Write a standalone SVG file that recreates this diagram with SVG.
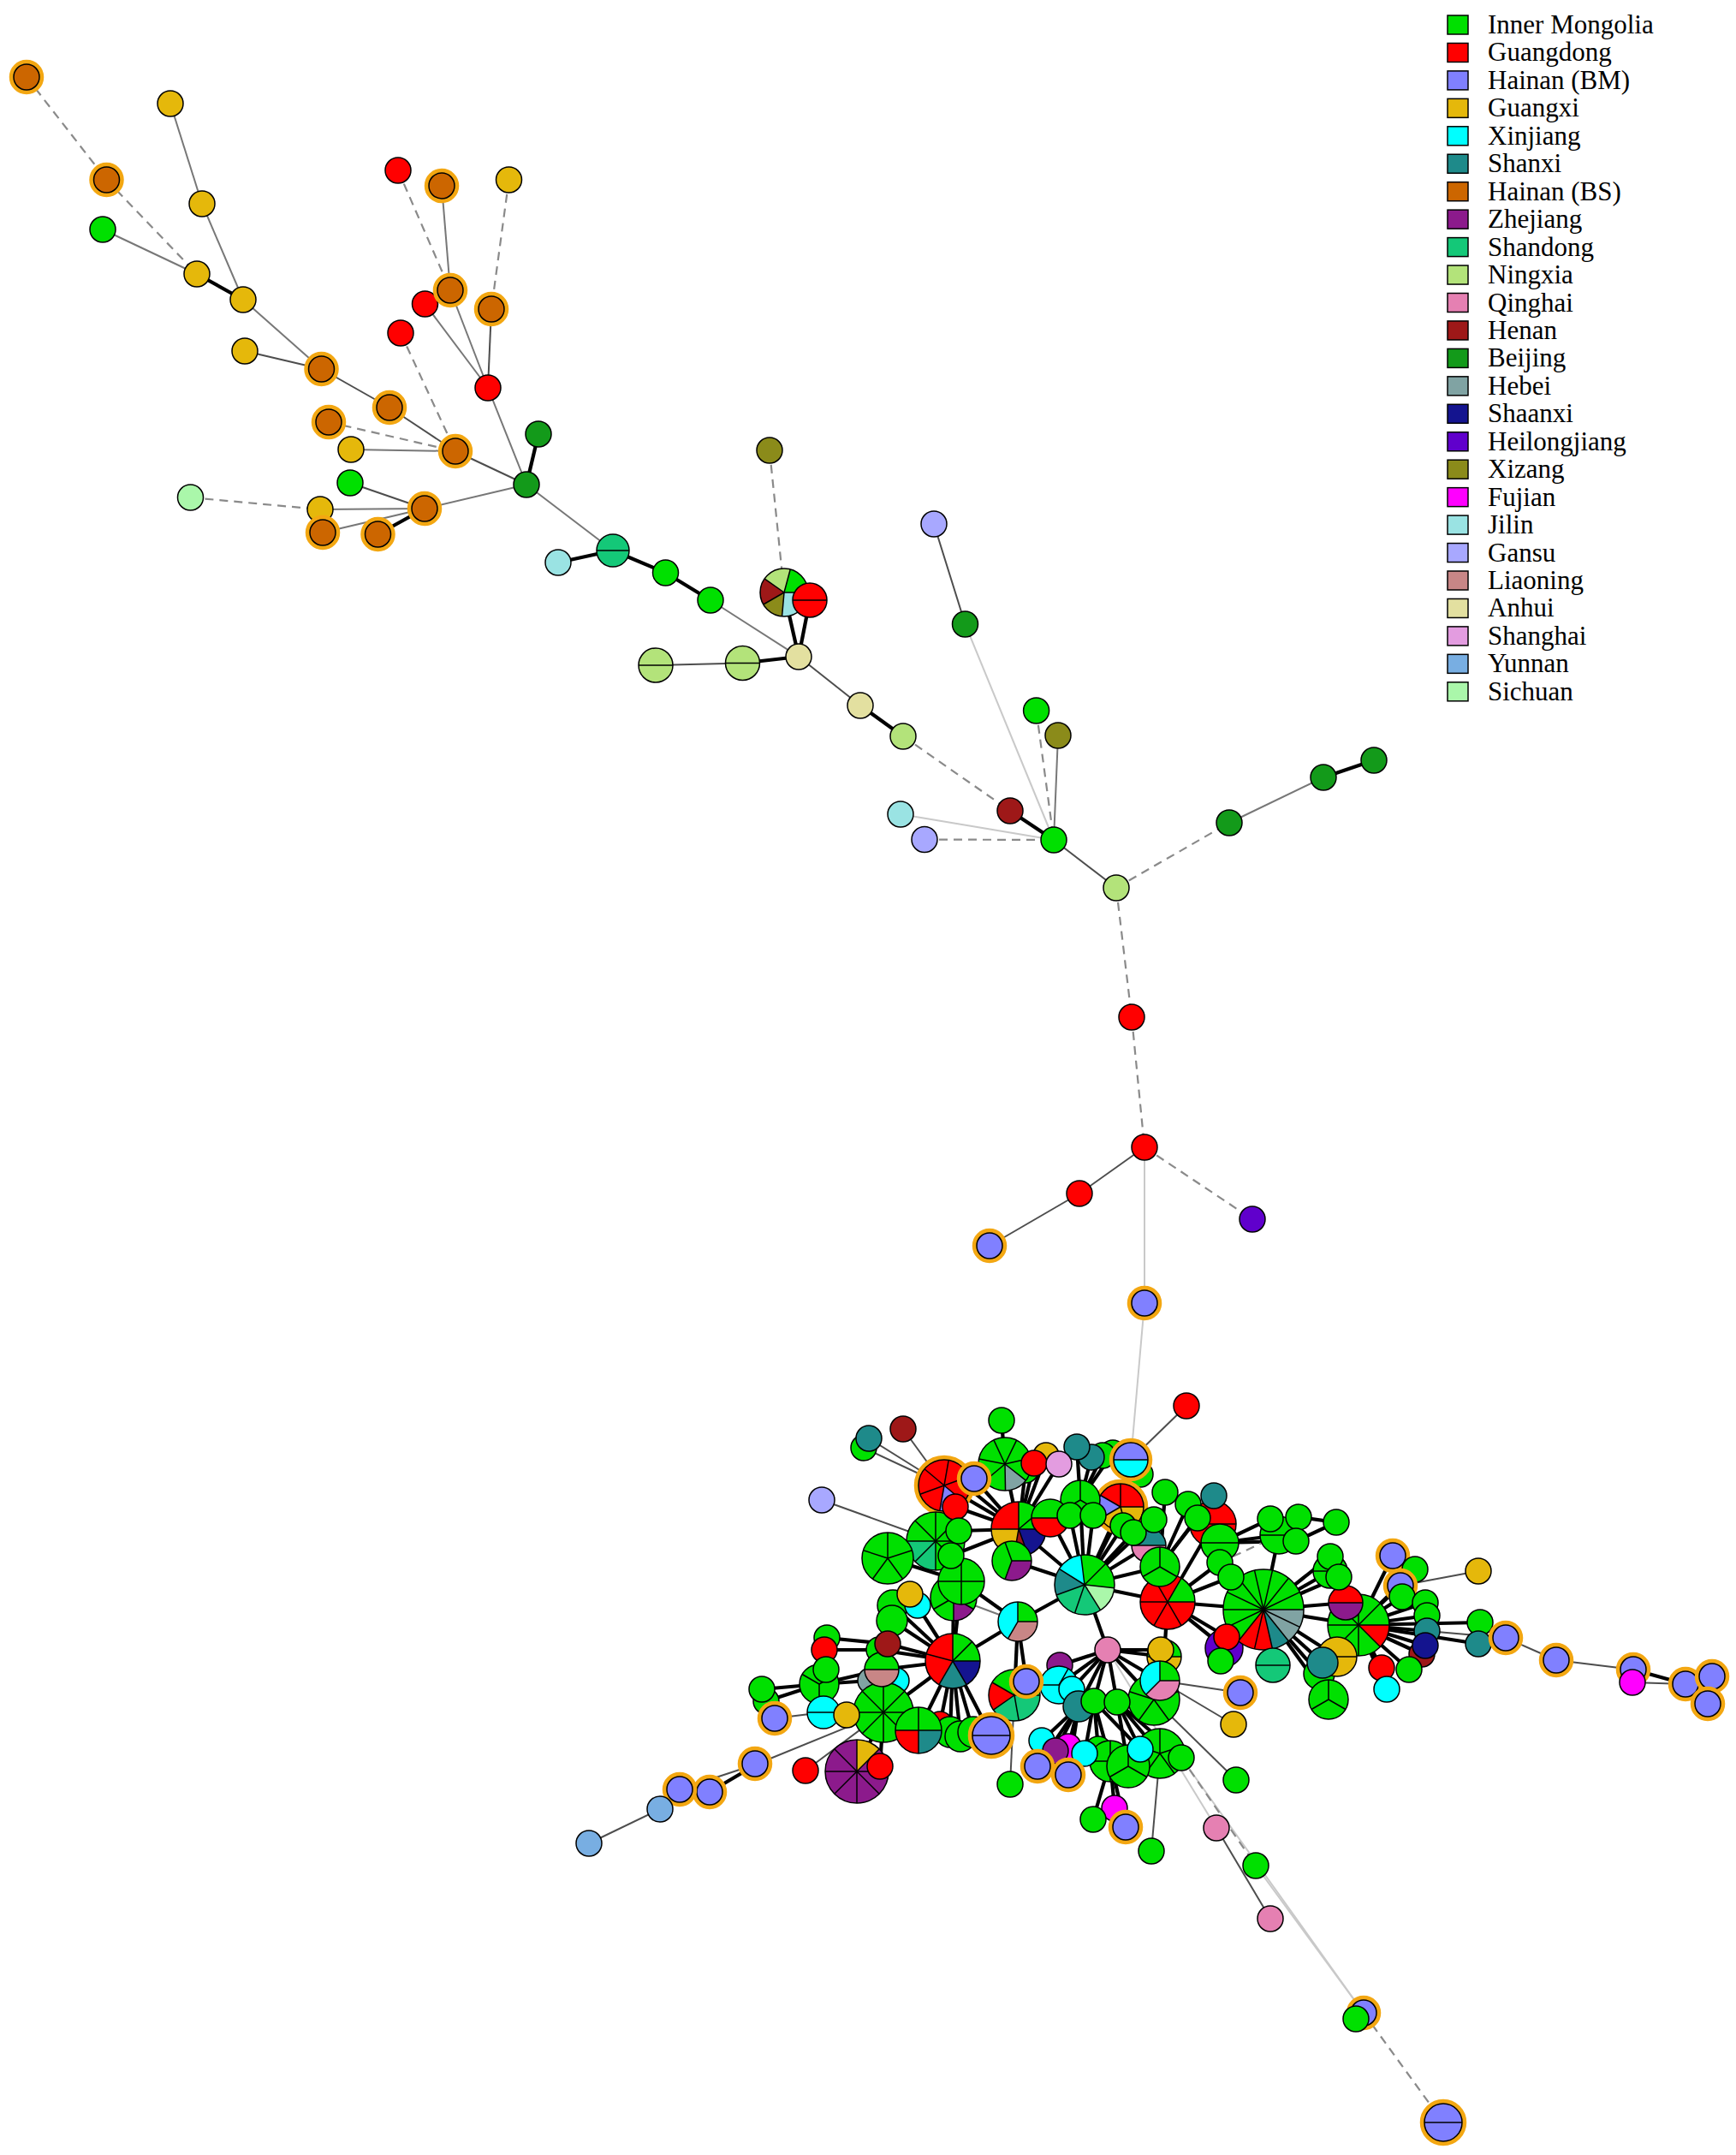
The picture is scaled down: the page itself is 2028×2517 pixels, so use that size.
<svg xmlns="http://www.w3.org/2000/svg" width="2028" height="2517" viewBox="0 0 2028 2517">
<style>
.n{fill:currentColor;stroke:#000;stroke-width:1.5}
.f{fill:currentColor}
.s{fill:none;stroke:currentColor;stroke-width:114.6}
.o{fill:none;stroke:#000;stroke-width:1.5}
.d{stroke:#000;stroke-width:1.5}
.h{fill:none;stroke:#f3a712;stroke-width:5.5}
.e1{stroke:#000;stroke-width:4.2}
.e2{stroke:#4d4d4d;stroke-width:2}
.e3{stroke:#777;stroke-width:2}
.e4{stroke:#c9c9c9;stroke-width:2}
.e5{stroke:#8a8a8a;stroke-width:2.2;stroke-dasharray:10 7}
.lg{font-family:"Liberation Serif","Times New Roman",serif;font-size:31px;fill:#000}
.IM{color:#00e000}.GD{color:#f00}.BM{color:#8080ff}.GX{color:#e5b80b}.XJ{color:#0ff}.SX{color:#1e8a8a}.BS{color:#cc6600}.ZJ{color:#8c1a8c}.SD{color:#14c878}.NX{color:#b3e37a}.QH{color:#e580b2}.HN{color:#9e1818}.BJ{color:#139a1a}.HB{color:#80a3a3}.SN{color:#14148f}.HL{color:#6000cc}.XZ{color:#8b8b1a}.FJ{color:#f0f}.JL{color:#9ae3e3}.GS{color:#a8a8ff}.LN{color:#c88686}.AH{color:#e3e0a0}.SH{color:#e39ce0}.YN{color:#78aee2}.SC{color:#aaf7aa}
</style>
<rect width="2028" height="2517" fill="#fff"/>
<g id="edges">
<line class="e5" x1="31" y1="90" x2="124.5" y2="210"/>
<line class="e5" x1="124.5" y1="210" x2="230" y2="320"/>
<line class="e5" x1="384" y1="493" x2="532" y2="527"/>
<line class="e5" x1="468" y1="389" x2="532" y2="527"/>
<line class="e5" x1="465" y1="199" x2="526" y2="339"/>
<line class="e5" x1="594.5" y1="210" x2="574" y2="361"/>
<line class="e5" x1="222.5" y1="581" x2="374" y2="595"/>
<line class="e3" x1="199" y1="121" x2="236" y2="238"/>
<line class="e3" x1="236" y1="238" x2="284" y2="350"/>
<line class="e3" x1="120" y1="268" x2="230" y2="320"/>
<line class="e3" x1="284" y1="350" x2="375.5" y2="431"/>
<line class="e2" x1="286" y1="410" x2="375.5" y2="431"/>
<line class="e2" x1="375.5" y1="431" x2="455" y2="476"/>
<line class="e2" x1="455" y1="476" x2="532" y2="527"/>
<line class="e3" x1="410" y1="525" x2="532" y2="527"/>
<line class="e2" x1="532" y1="527" x2="615" y2="566"/>
<line class="e3" x1="516" y1="217" x2="526" y2="339"/>
<line class="e3" x1="496.5" y1="355" x2="570" y2="453"/>
<line class="e3" x1="526" y1="339" x2="570" y2="453"/>
<line class="e2" x1="574" y1="361" x2="570" y2="453"/>
<line class="e3" x1="570" y1="453" x2="615" y2="566"/>
<line class="e2" x1="409" y1="564" x2="496" y2="594"/>
<line class="e3" x1="374" y1="595" x2="496" y2="594"/>
<line class="e3" x1="377" y1="622" x2="496" y2="594"/>
<line class="e3" x1="496" y1="594" x2="615" y2="566"/>
<line class="e3" x1="615" y1="566" x2="716" y2="643"/>
<line class="e1" x1="230" y1="320" x2="284" y2="350"/>
<line class="e1" x1="629" y1="507" x2="615" y2="566"/>
<line class="e1" x1="441.5" y1="624" x2="496" y2="594"/>
<line class="e1" x1="652" y1="657" x2="716" y2="643"/>
<line class="e1" x1="716" y1="643" x2="777.5" y2="669"/>
<line class="e1" x1="777.5" y1="669" x2="830" y2="701"/>
<line class="e1" x1="916" y1="692" x2="933" y2="767"/>
<line class="e1" x1="946" y1="701" x2="933" y2="767"/>
<line class="e1" x1="867.5" y1="774.5" x2="933" y2="767"/>
<line class="e1" x1="1005" y1="824" x2="1055" y2="860"/>
<line class="e1" x1="1180" y1="947" x2="1231" y2="981"/>
<line class="e1" x1="1546" y1="908" x2="1605" y2="888"/>
<line class="e3" x1="830" y1="701" x2="933" y2="767"/>
<line class="e2" x1="766" y1="777" x2="867.5" y2="774.5"/>
<line class="e2" x1="933" y1="767" x2="1005" y2="824"/>
<line class="e2" x1="1091" y1="612" x2="1127.5" y2="729"/>
<line class="e3" x1="1236" y1="859" x2="1231" y2="981"/>
<line class="e2" x1="1231" y1="981" x2="1304" y2="1037"/>
<line class="e3" x1="1436" y1="961" x2="1546" y2="908"/>
<line class="e2" x1="1337" y1="1340" x2="1261" y2="1394"/>
<line class="e2" x1="1261" y1="1394" x2="1156" y2="1455"/>
<line class="e4" x1="1127.5" y1="729" x2="1231" y2="981"/>
<line class="e4" x1="1052" y1="951" x2="1231" y2="981"/>
<line class="e4" x1="1337" y1="1340" x2="1337" y2="1522"/>
<line class="e4" x1="1337" y1="1522" x2="1321" y2="1705"/>
<line class="e5" x1="899" y1="526" x2="916" y2="692"/>
<line class="e5" x1="1055" y1="860" x2="1180" y2="947"/>
<line class="e5" x1="1210.6" y1="830" x2="1231" y2="981"/>
<line class="e5" x1="1080" y1="980.5" x2="1231" y2="981"/>
<line class="e5" x1="1304" y1="1037" x2="1436" y2="961"/>
<line class="e5" x1="1304" y1="1037" x2="1322" y2="1188"/>
<line class="e5" x1="1322" y1="1188" x2="1337" y2="1340"/>
<line class="e5" x1="1337" y1="1340" x2="1463" y2="1424"/>
<line class="e2" x1="1055" y1="1669" x2="1103" y2="1735"/>
<line class="e2" x1="1015" y1="1680" x2="1103" y2="1735"/>
<line class="e2" x1="1009" y1="1691" x2="1103" y2="1735"/>
<line class="e2" x1="960" y1="1752" x2="1093" y2="1800"/>
<line class="e2" x1="1386" y1="1642" x2="1321" y2="1705"/>
<line class="e2" x1="941" y1="2068" x2="1032" y2="2000"/>
<line class="e2" x1="885" y1="2060" x2="1032" y2="2000"/>
<line class="e2" x1="905" y1="2007" x2="962" y2="2000"/>
<line class="e2" x1="794" y1="2090" x2="885" y2="2060"/>
<line class="e2" x1="771" y1="2113" x2="794" y2="2090"/>
<line class="e2" x1="688" y1="2153" x2="771" y2="2113"/>
<line class="e2" x1="1449" y1="1977" x2="1355" y2="1963"/>
<line class="e2" x1="1441" y1="2014" x2="1355" y2="1963"/>
<line class="e2" x1="1444" y1="2079" x2="1348" y2="1985"/>
<line class="e2" x1="1421" y1="2135" x2="1484" y2="2241"/>
<line class="e2" x1="1180" y1="2084" x2="1185" y2="1980"/>
<line class="e2" x1="1345" y1="2162" x2="1355" y2="2048"/>
<line class="e2" x1="1727" y1="1835" x2="1636" y2="1852"/>
<line class="e2" x1="1759" y1="1913" x2="1587" y2="1898"/>
<line class="e2" x1="1759" y1="1913" x2="1818" y2="1939"/>
<line class="e2" x1="1818" y1="1939" x2="1908" y2="1950"/>
<line class="e2" x1="1907" y1="1965" x2="1969" y2="1967"/>
<line class="e2" x1="1969" y1="1967" x2="1995" y2="1990"/>
<line class="e3" x1="1114" y1="1866" x2="1189" y2="1894"/>
<line class="e1" x1="829" y1="2093" x2="885" y2="2060"/>
<line class="e1" x1="1908" y1="1950" x2="1969" y2="1967"/>
<line class="e1" x1="1969" y1="1967" x2="2000" y2="1958"/>
<line class="e1" x1="1170" y1="1659" x2="1174" y2="1710"/>
<line class="e1" x1="1190" y1="1786" x2="1103" y2="1735"/>
<line class="e1" x1="1190" y1="1786" x2="1118" y2="1727"/>
<line class="e1" x1="1190" y1="1786" x2="1138" y2="1727"/>
<line class="e1" x1="1190" y1="1786" x2="1116" y2="1760"/>
<line class="e1" x1="1190" y1="1786" x2="1174" y2="1710"/>
<line class="e1" x1="1190" y1="1786" x2="1198" y2="1717"/>
<line class="e1" x1="1190" y1="1786" x2="1208" y2="1709"/>
<line class="e1" x1="1190" y1="1786" x2="1222" y2="1700"/>
<line class="e1" x1="1190" y1="1786" x2="1237" y2="1710"/>
<line class="e1" x1="1190" y1="1786" x2="1120" y2="1788"/>
<line class="e1" x1="1190" y1="1786" x2="1111" y2="1817"/>
<line class="e1" x1="1267" y1="1851" x2="1364" y2="1871"/>
<line class="e1" x1="1267" y1="1851" x2="1355" y2="1830"/>
<line class="e1" x1="1267" y1="1851" x2="1294" y2="1927"/>
<line class="e1" x1="1267" y1="1851" x2="1189" y2="1894"/>
<line class="e1" x1="1267" y1="1851" x2="1182" y2="1823"/>
<line class="e1" x1="1267" y1="1851" x2="1190" y2="1786"/>
<line class="e1" x1="1267" y1="1851" x2="1227" y2="1773"/>
<line class="e1" x1="1267" y1="1851" x2="1262" y2="1752"/>
<line class="e1" x1="1267" y1="1851" x2="1250" y2="1770"/>
<line class="e1" x1="1267" y1="1851" x2="1277" y2="1770"/>
<line class="e1" x1="1267" y1="1851" x2="1309" y2="1760"/>
<line class="e1" x1="1267" y1="1851" x2="1312" y2="1782"/>
<line class="e1" x1="1267" y1="1851" x2="1324" y2="1790"/>
<line class="e1" x1="1267" y1="1851" x2="1348" y2="1775"/>
<line class="e1" x1="1267" y1="1851" x2="1342" y2="1805"/>
<line class="e1" x1="1267" y1="1851" x2="1332" y2="1722"/>
<line class="e1" x1="1262" y1="1752" x2="1258" y2="1690"/>
<line class="e1" x1="1262" y1="1752" x2="1275" y2="1702"/>
<line class="e1" x1="1262" y1="1752" x2="1288" y2="1700"/>
<line class="e1" x1="1262" y1="1752" x2="1300" y2="1697"/>
<line class="e1" x1="1321" y1="1705" x2="1309" y2="1760"/>
<line class="e1" x1="1355" y1="1830" x2="1361" y2="1743"/>
<line class="e1" x1="1355" y1="1830" x2="1388" y2="1757"/>
<line class="e1" x1="1355" y1="1830" x2="1399" y2="1773"/>
<line class="e1" x1="1355" y1="1830" x2="1418" y2="1747"/>
<line class="e1" x1="1364" y1="1871" x2="1417" y2="1780"/>
<line class="e1" x1="1364" y1="1871" x2="1425" y2="1825"/>
<line class="e1" x1="1364" y1="1871" x2="1438" y2="1842"/>
<line class="e1" x1="1364" y1="1871" x2="1476" y2="1880"/>
<line class="e1" x1="1364" y1="1871" x2="1431" y2="1925"/>
<line class="e1" x1="1364" y1="1871" x2="1433" y2="1912"/>
<line class="e1" x1="1364" y1="1871" x2="1360" y2="1935"/>
<line class="e1" x1="1425" y1="1802" x2="1484" y2="1774"/>
<line class="e1" x1="1425" y1="1802" x2="1494" y2="1793"/>
<line class="e1" x1="1425" y1="1802" x2="1514" y2="1800"/>
<line class="e1" x1="1517" y1="1772" x2="1561" y2="1778"/>
<line class="e1" x1="1514" y1="1800" x2="1561" y2="1778"/>
<line class="e1" x1="1476" y1="1880" x2="1554" y2="1818"/>
<line class="e1" x1="1476" y1="1880" x2="1564" y2="1842"/>
<line class="e1" x1="1476" y1="1880" x2="1554" y2="1835"/>
<line class="e1" x1="1476" y1="1880" x2="1572" y2="1872"/>
<line class="e1" x1="1476" y1="1880" x2="1587" y2="1898"/>
<line class="e1" x1="1476" y1="1880" x2="1562" y2="1935"/>
<line class="e1" x1="1476" y1="1880" x2="1545" y2="1942"/>
<line class="e1" x1="1476" y1="1880" x2="1541" y2="1955"/>
<line class="e1" x1="1476" y1="1880" x2="1552" y2="1985"/>
<line class="e1" x1="1476" y1="1880" x2="1487" y2="1945"/>
<line class="e1" x1="1476" y1="1880" x2="1431" y2="1925"/>
<line class="e1" x1="1476" y1="1880" x2="1438" y2="1842"/>
<line class="e1" x1="1476" y1="1880" x2="1494" y2="1793"/>
<line class="e1" x1="1587" y1="1898" x2="1627" y2="1817"/>
<line class="e1" x1="1587" y1="1898" x2="1653" y2="1833"/>
<line class="e1" x1="1587" y1="1898" x2="1636" y2="1852"/>
<line class="e1" x1="1587" y1="1898" x2="1638" y2="1865"/>
<line class="e1" x1="1587" y1="1898" x2="1665" y2="1872"/>
<line class="e1" x1="1587" y1="1898" x2="1667" y2="1887"/>
<line class="e1" x1="1587" y1="1898" x2="1667" y2="1905"/>
<line class="e1" x1="1587" y1="1898" x2="1665" y2="1922"/>
<line class="e1" x1="1587" y1="1898" x2="1661" y2="1932"/>
<line class="e1" x1="1587" y1="1898" x2="1646" y2="1950"/>
<line class="e1" x1="1587" y1="1898" x2="1614" y2="1948"/>
<line class="e1" x1="1587" y1="1898" x2="1620" y2="1973"/>
<line class="e1" x1="1587" y1="1898" x2="1729" y2="1895"/>
<line class="e1" x1="1587" y1="1898" x2="1727" y2="1920"/>
<line class="e1" x1="1113" y1="1940" x2="1123" y2="1847"/>
<line class="e1" x1="1113" y1="1940" x2="1114" y2="1866"/>
<line class="e1" x1="1113" y1="1940" x2="1063" y2="1862"/>
<line class="e1" x1="1113" y1="1940" x2="1043" y2="1875"/>
<line class="e1" x1="1113" y1="1940" x2="1042" y2="1893"/>
<line class="e1" x1="1113" y1="1940" x2="1037" y2="1920"/>
<line class="e1" x1="1113" y1="1940" x2="1027" y2="1927"/>
<line class="e1" x1="1113" y1="1940" x2="1030" y2="1950"/>
<line class="e1" x1="1113" y1="1940" x2="1032" y2="2000"/>
<line class="e1" x1="1113" y1="1940" x2="1073" y2="2021"/>
<line class="e1" x1="1113" y1="1940" x2="1098" y2="2014"/>
<line class="e1" x1="1113" y1="1940" x2="1110" y2="2023"/>
<line class="e1" x1="1113" y1="1940" x2="1122" y2="2028"/>
<line class="e1" x1="1113" y1="1940" x2="1137" y2="2023"/>
<line class="e1" x1="1113" y1="1940" x2="1158" y2="2027"/>
<line class="e1" x1="1113" y1="1940" x2="1189" y2="1894"/>
<line class="e1" x1="1093" y1="1800" x2="1123" y2="1847"/>
<line class="e1" x1="1093" y1="1800" x2="1111" y2="1817"/>
<line class="e1" x1="1037" y1="1820" x2="1123" y2="1847"/>
<line class="e1" x1="1037" y1="1820" x2="1093" y2="1800"/>
<line class="e1" x1="1123" y1="1847" x2="1189" y2="1894"/>
<line class="e1" x1="1189" y1="1894" x2="1185" y2="1980"/>
<line class="e1" x1="1189" y1="1894" x2="1199" y2="1964"/>
<line class="e1" x1="957" y1="1967" x2="890" y2="1973"/>
<line class="e1" x1="957" y1="1967" x2="895" y2="1987"/>
<line class="e1" x1="957" y1="1967" x2="1030" y2="1950"/>
<line class="e1" x1="957" y1="1967" x2="1017" y2="1963"/>
<line class="e1" x1="963" y1="1927" x2="1027" y2="1927"/>
<line class="e1" x1="966" y1="1913" x2="1037" y2="1920"/>
<line class="e1" x1="962" y1="2000" x2="1032" y2="2000"/>
<line class="e1" x1="1028" y1="2063" x2="1032" y2="2000"/>
<line class="e1" x1="1001" y1="2069" x2="1032" y2="2000"/>
<line class="e1" x1="1294" y1="1927" x2="1237" y2="1968"/>
<line class="e1" x1="1294" y1="1927" x2="1252" y2="1973"/>
<line class="e1" x1="1294" y1="1927" x2="1238" y2="1945"/>
<line class="e1" x1="1294" y1="1927" x2="1260" y2="1993"/>
<line class="e1" x1="1294" y1="1927" x2="1278" y2="1987"/>
<line class="e1" x1="1294" y1="1927" x2="1305" y2="1988"/>
<line class="e1" x1="1294" y1="1927" x2="1356" y2="1927"/>
<line class="e1" x1="1294" y1="1927" x2="1360" y2="1935"/>
<line class="e1" x1="1294" y1="1927" x2="1355" y2="1963"/>
<line class="e1" x1="1294" y1="1927" x2="1348" y2="1985"/>
<line class="e1" x1="1278" y1="1987" x2="1297" y2="2057"/>
<line class="e1" x1="1278" y1="1987" x2="1267" y2="2048"/>
<line class="e1" x1="1278" y1="1987" x2="1283" y2="2043"/>
<line class="e1" x1="1278" y1="1987" x2="1332" y2="2043"/>
<line class="e1" x1="1305" y1="1988" x2="1355" y2="2048"/>
<line class="e1" x1="1305" y1="1988" x2="1318" y2="2063"/>
<line class="e1" x1="1305" y1="1988" x2="1332" y2="2043"/>
<line class="e1" x1="1305" y1="1988" x2="1380" y2="2053"/>
<line class="e1" x1="1260" y1="1993" x2="1217" y2="2033"/>
<line class="e1" x1="1260" y1="1993" x2="1233" y2="2045"/>
<line class="e1" x1="1260" y1="1993" x2="1248" y2="2040"/>
<line class="e1" x1="1260" y1="1993" x2="1212" y2="2063"/>
<line class="e1" x1="1260" y1="1993" x2="1248" y2="2073"/>
<line class="e1" x1="1297" y1="2057" x2="1302" y2="2112"/>
<line class="e1" x1="1297" y1="2057" x2="1277" y2="2125"/>
<line class="e1" x1="1297" y1="2057" x2="1315" y2="2134"/>
<line class="e4" x1="1294" y1="1927" x2="1421" y2="2135"/>
<line class="e4" x1="1467" y1="2179" x2="1593" y2="2351"/>
<line class="e4" x1="1380" y1="2053" x2="1593" y2="2351"/>
<line class="e5" x1="1425" y1="1825" x2="1494" y2="1793"/>
<line class="e5" x1="1380" y1="2053" x2="1467" y2="2179"/>
<line class="e5" x1="1593" y1="2351" x2="1686" y2="2479"/>
</g>
<g id="nodes">
<g id="n1"><circle class="h" cx="31" cy="90" r="17.5"/><circle class="n BS" cx="31" cy="90" r="15"/></g>
<g id="n2"><circle class="n GX" cx="199" cy="121" r="15"/></g>
<g id="n3"><circle class="h" cx="124.5" cy="210" r="17.5"/><circle class="n BS" cx="124.5" cy="210" r="15"/></g>
<g id="n4"><circle class="n GX" cx="236" cy="238" r="15"/></g>
<g id="n5"><circle class="n IM" cx="120" cy="268" r="15"/></g>
<g id="n6"><circle class="n GX" cx="230" cy="320" r="15"/></g>
<g id="n7"><circle class="n GX" cx="284" cy="350" r="15"/></g>
<g id="n8"><circle class="n GX" cx="286" cy="410" r="15"/></g>
<g id="n9"><circle class="h" cx="375.5" cy="431" r="17.5"/><circle class="n BS" cx="375.5" cy="431" r="15"/></g>
<g id="n10"><circle class="h" cx="455" cy="476" r="17.5"/><circle class="n BS" cx="455" cy="476" r="15"/></g>
<g id="n11"><circle class="h" cx="384" cy="493" r="17.5"/><circle class="n BS" cx="384" cy="493" r="15"/></g>
<g id="n12"><circle class="n GX" cx="410" cy="525" r="15"/></g>
<g id="n13"><circle class="h" cx="532" cy="527" r="17.5"/><circle class="n BS" cx="532" cy="527" r="15"/></g>
<g id="n14"><circle class="n SC" cx="222.5" cy="581" r="15"/></g>
<g id="n15"><circle class="n IM" cx="409" cy="564" r="15"/></g>
<g id="n16"><circle class="n GX" cx="374" cy="595" r="15"/></g>
<g id="n17"><circle class="h" cx="377" cy="622" r="17.5"/><circle class="n BS" cx="377" cy="622" r="15"/></g>
<g id="n18"><circle class="h" cx="441.5" cy="624" r="17.5"/><circle class="n BS" cx="441.5" cy="624" r="15"/></g>
<g id="n19"><circle class="h" cx="496" cy="594" r="17.5"/><circle class="n BS" cx="496" cy="594" r="15"/></g>
<g id="n20"><circle class="n BJ" cx="615" cy="566" r="15"/></g>
<g id="n21"><circle class="n BJ" cx="629" cy="507" r="15"/></g>
<g id="n22"><circle class="n GD" cx="465" cy="199" r="15"/></g>
<g id="n23"><circle class="h" cx="516" cy="217" r="17.5"/><circle class="n BS" cx="516" cy="217" r="15"/></g>
<g id="n24"><circle class="n GX" cx="594.5" cy="210" r="15"/></g>
<g id="n25"><circle class="n GD" cx="496.5" cy="355" r="15"/></g>
<g id="n26"><circle class="h" cx="526" cy="339" r="17.5"/><circle class="n BS" cx="526" cy="339" r="15"/></g>
<g id="n27"><circle class="h" cx="574" cy="361" r="17.5"/><circle class="n BS" cx="574" cy="361" r="15"/></g>
<g id="n28"><circle class="n GD" cx="468" cy="389" r="15"/></g>
<g id="n29"><circle class="n GD" cx="570" cy="453" r="15"/></g>
<g id="n30"><circle class="n JL" cx="652" cy="657" r="15"/></g>
<g id="n31" transform="translate(716 643)"><circle class="n SD" r="19"/><line class="d" x1="-19" x2="19"/></g>
<g id="n32"><circle class="n IM" cx="777.5" cy="669" r="15"/></g>
<g id="n33"><circle class="n IM" cx="830" cy="701" r="15"/></g>
<g id="n34"><circle class="n XZ" cx="899" cy="526" r="15"/></g>
<g id="n35" transform="translate(916 692)"><circle class="f NX" r="28"/><g transform="scale(.2443)"><circle class="s IM" r="57.3" stroke-dasharray="75 400" transform="rotate(-75)"/><circle class="s JL" r="57.3" stroke-dasharray="95 400"/><circle class="s XZ" r="57.3" stroke-dasharray="55 400" transform="rotate(95)"/><circle class="s HN" r="57.3" stroke-dasharray="65 400" transform="rotate(150)"/></g><line class="d" x2="28" transform="rotate(-145)"/><line class="d" x2="28" transform="rotate(-75)"/><line class="d" x2="28"/><line class="d" x2="28" transform="rotate(95)"/><line class="d" x2="28" transform="rotate(150)"/><circle class="o" r="28"/></g>
<g id="n36" transform="translate(946 701)"><circle class="n GD" r="20"/><line class="d" x1="-20" x2="20"/></g>
<g id="n37"><circle class="n AH" cx="933" cy="767" r="15"/></g>
<g id="n38" transform="translate(766 777)"><circle class="n NX" r="20"/><line class="d" x1="-20" x2="20"/></g>
<g id="n39" transform="translate(867.5 774.5)"><circle class="n NX" r="20"/><line class="d" x1="-20" x2="20"/></g>
<g id="n40"><circle class="n AH" cx="1005" cy="824" r="15"/></g>
<g id="n41"><circle class="n NX" cx="1055" cy="860" r="15"/></g>
<g id="n42"><circle class="n GS" cx="1091" cy="612" r="15"/></g>
<g id="n43"><circle class="n BJ" cx="1127.5" cy="729" r="15"/></g>
<g id="n44"><circle class="n IM" cx="1210.6" cy="830" r="15"/></g>
<g id="n45"><circle class="n XZ" cx="1236" cy="859" r="15"/></g>
<g id="n46"><circle class="n HN" cx="1180" cy="947" r="15"/></g>
<g id="n47"><circle class="n JL" cx="1052" cy="951" r="15"/></g>
<g id="n48"><circle class="n GS" cx="1080" cy="980.5" r="15"/></g>
<g id="n49"><circle class="n IM" cx="1231" cy="981" r="15"/></g>
<g id="n50"><circle class="n NX" cx="1304" cy="1037" r="15"/></g>
<g id="n51"><circle class="n BJ" cx="1436" cy="961" r="15"/></g>
<g id="n52"><circle class="n BJ" cx="1546" cy="908" r="15"/></g>
<g id="n53"><circle class="n BJ" cx="1605" cy="888" r="15"/></g>
<g id="n54"><circle class="n GD" cx="1322" cy="1188" r="15"/></g>
<g id="n55"><circle class="n GD" cx="1337" cy="1340" r="15"/></g>
<g id="n56"><circle class="n GD" cx="1261" cy="1394" r="15"/></g>
<g id="n57"><circle class="n HL" cx="1463" cy="1424" r="15"/></g>
<g id="n58"><circle class="h" cx="1156" cy="1455" r="17.5"/><circle class="n BM" cx="1156" cy="1455" r="15"/></g>
<g id="n59"><circle class="h" cx="1337" cy="1522" r="17.5"/><circle class="n BM" cx="1337" cy="1522" r="15"/></g>

<g id="c4"><circle class="n IM" cx="1009" cy="1691" r="15"/></g>
<g id="c8"><circle class="n IM" cx="1118" cy="1727" r="15"/></g>
<g id="c21"><circle class="n IM" cx="1332" cy="1722" r="15"/></g>
<g id="c19"><circle class="n IM" cx="1300" cy="1697" r="15"/></g>
<g id="c18"><circle class="n IM" cx="1288" cy="1700" r="15"/></g>
<g id="c17"><circle class="n SX" cx="1275" cy="1702" r="15"/></g>
<g id="c16"><circle class="n SX" cx="1258" cy="1690" r="15"/></g>
<g id="c12"><circle class="n IM" cx="1198" cy="1717" r="15"/></g>
<g id="c14"><circle class="n GX" cx="1222" cy="1700" r="15"/></g>
<g id="c55a"><circle class="n IM" cx="1043" cy="1875" r="18"/></g>
<g id="c55b"><circle class="n IM" cx="1042" cy="1893" r="18"/></g>
<g id="c57"><circle class="n IM" cx="1027" cy="1927" r="15"/></g>
<g id="c59"><circle class="n HB" cx="1017" cy="1963" r="15"/></g>
<g id="c60"><circle class="n XJ" cx="1047" cy="1963" r="15"/></g>
<g id="c54"><circle class="n XJ" cx="1072" cy="1875" r="15"/></g>
<g id="c63b"><circle class="n IM" cx="895" cy="1987" r="15"/></g>
<g id="c61b"><circle class="n IM" cx="966" cy="1913" r="15"/></g>
<g id="c69"><circle class="n GD" cx="1098" cy="2014" r="15"/></g>
<g id="c70a"><circle class="n IM" cx="1110" cy="2023" r="18"/></g>
<g id="c70b"><circle class="n IM" cx="1122" cy="2028" r="18"/></g>
<g id="c70c"><circle class="n IM" cx="1137" cy="2023" r="18"/></g>
<g id="c85"><circle class="n ZJ" cx="1238" cy="1945" r="15"/></g>
<g id="c102"><circle class="n IM" cx="1283" cy="2043" r="15"/></g>
<g id="c105"><circle class="n FJ" cx="1248" cy="2040" r="15"/></g>
<g id="c138"><circle class="n HN" cx="1661" cy="1932" r="15"/></g>
<g id="c155"><circle class="n IM" cx="1541" cy="1955" r="18"/></g>
<g id="c128" transform="translate(1554 1835)"><circle class="n IM" r="20"/><line class="d" x1="-20" x2="20"/></g>
<g id="c123" transform="translate(1494 1793)"><circle class="n IM" r="22"/><line class="d" x1="-22" x2="22"/></g>
<g id="c34" transform="translate(1342 1805)"><circle class="f SX" r="20"/><g transform="scale(.1745)"><circle class="s QH" r="57.3" stroke-dasharray="180 400"/></g><line class="d" x1="-20" x2="20"/><circle class="o" r="20"/></g>
<g id="c151"><circle class="n HL" cx="1430" cy="1925" r="22"/></g>

<g id="c119" transform="translate(1476 1880)"><circle class="f IM" r="47"/><g transform="scale(.4102)"><circle class="s HB" r="57.3" stroke-dasharray="51 400"/><circle class="s SX" r="57.3" stroke-dasharray="26 400" transform="rotate(51.4)"/><circle class="s GD" r="57.3" stroke-dasharray="52 400" transform="rotate(77.1)"/></g><line class="d" x2="47"/><line class="d" x2="47" transform="rotate(25.7)"/><line class="d" x2="47" transform="rotate(51.4)"/><line class="d" x2="47" transform="rotate(77.1)"/><line class="d" x2="47" transform="rotate(102.9)"/><line class="d" x2="47" transform="rotate(128.6)"/><line class="d" x2="47" transform="rotate(154.3)"/><line class="d" x2="47" transform="rotate(180)"/><line class="d" x2="47" transform="rotate(205.7)"/><line class="d" x2="47" transform="rotate(231.4)"/><line class="d" x2="47" transform="rotate(257.1)"/><line class="d" x2="47" transform="rotate(282.9)"/><line class="d" x2="47" transform="rotate(308.6)"/><line class="d" x2="47" transform="rotate(334.3)"/><circle class="o" r="47"/></g>
<g id="c120" transform="translate(1587 1898)"><circle class="f IM" r="36"/><g transform="scale(.3142)"><circle class="s GD" r="57.3" stroke-dasharray="45 400"/></g><line class="d" x2="36"/><line class="d" x2="36" transform="rotate(45)"/><line class="d" x2="36" transform="rotate(90)"/><line class="d" x2="36" transform="rotate(135)"/><line class="d" x2="36" transform="rotate(180)"/><line class="d" x2="36" transform="rotate(225)"/><line class="d" x2="36" transform="rotate(270)"/><line class="d" x2="36" transform="rotate(315)"/><circle class="o" r="36"/></g>
<g id="c37" transform="translate(1364 1871)"><circle class="f GD" r="32"/><g transform="scale(.2793)"><circle class="s IM" r="57.3" stroke-dasharray="60 400" transform="rotate(-60)"/></g><line class="d" x2="32" transform="rotate(-120)"/><line class="d" x2="32" transform="rotate(-60)"/><line class="d" x2="32"/><line class="d" x2="32" transform="rotate(60)"/><line class="d" x2="32" transform="rotate(120)"/><line class="d" x2="32" transform="rotate(180)"/><circle class="o" r="32"/></g>
<g id="c38" transform="translate(1267 1851)"><circle class="f SD" r="35"/><g transform="scale(.3054)"><circle class="s XJ" r="57.3" stroke-dasharray="51 400" transform="rotate(-148)"/><circle class="s IM" r="57.3" stroke-dasharray="103 400" transform="rotate(-97)"/><circle class="s SC" r="57.3" stroke-dasharray="52 400" transform="rotate(6)"/><circle class="s SX" r="57.3" stroke-dasharray="52 400" transform="rotate(160)"/></g><line class="d" x2="35" transform="rotate(-148)"/><line class="d" x2="35" transform="rotate(-97)"/><line class="d" x2="35" transform="rotate(-45)"/><line class="d" x2="35" transform="rotate(6)"/><line class="d" x2="35" transform="rotate(58)"/><line class="d" x2="35" transform="rotate(109)"/><line class="d" x2="35" transform="rotate(160)"/><circle class="o" r="35"/></g>
<g id="c39" transform="translate(1190 1786)"><circle class="f GD" r="32"/><g transform="scale(.2793)"><circle class="s IM" r="57.3" stroke-dasharray="90 400" transform="rotate(-90)"/><circle class="s SN" r="57.3" stroke-dasharray="70 400"/><circle class="s HN" r="57.3" stroke-dasharray="30 400" transform="rotate(70)"/><circle class="s GX" r="57.3" stroke-dasharray="80 400" transform="rotate(100)"/></g><line class="d" x2="32" transform="rotate(180)"/><line class="d" x2="32" transform="rotate(-90)"/><line class="d" x2="32" transform="rotate(-40)"/><line class="d" x2="32"/><line class="d" x2="32" transform="rotate(70)"/><line class="d" x2="32" transform="rotate(100)"/><circle class="o" r="32"/></g>
<g id="c40" transform="translate(1182 1823)"><circle class="f IM" r="23"/><g transform="scale(.2007)"><circle class="s ZJ" r="57.3" stroke-dasharray="110 400"/></g><line class="d" x2="23"/><line class="d" x2="23" transform="rotate(110)"/><line class="d" x2="23" transform="rotate(-110)"/><circle class="o" r="23"/></g>
<g id="c11" transform="translate(1174 1710)"><circle class="f IM" r="31"/><g transform="scale(.2705)"><circle class="s HB" r="57.3" stroke-dasharray="51 400" transform="rotate(38)"/></g><line class="d" x2="31" transform="rotate(-115)"/><line class="d" x2="31" transform="rotate(-64)"/><line class="d" x2="31" transform="rotate(-13)"/><line class="d" x2="31" transform="rotate(38)"/><line class="d" x2="31" transform="rotate(89)"/><line class="d" x2="31" transform="rotate(140)"/><line class="d" x2="31" transform="rotate(191)"/><circle class="o" r="31"/></g>
<g id="c7" transform="translate(1103 1735)"><circle class="h" r="32.5"/><circle class="f GD" r="30"/><g transform="scale(.2618)"><circle class="s BM" r="57.3" stroke-dasharray="60 400" transform="rotate(40)"/></g><line class="d" x2="30" transform="rotate(-140)"/><line class="d" x2="30" transform="rotate(-80)"/><line class="d" x2="30" transform="rotate(-20)"/><line class="d" x2="30" transform="rotate(40)"/><line class="d" x2="30" transform="rotate(100)"/><line class="d" x2="30" transform="rotate(160)"/><circle class="o" r="30"/></g>
<g id="c22" transform="translate(1309 1760)"><circle class="h" r="29.5"/><circle class="f GD" r="27"/><g transform="scale(.2356)"><circle class="s GX" r="57.3" stroke-dasharray="150 400"/><circle class="s BM" r="57.3" stroke-dasharray="60 400" transform="rotate(150)"/></g><line class="d" x2="27" transform="rotate(-90)"/><line class="d" x2="27"/><line class="d" x2="27" transform="rotate(75)"/><line class="d" x2="27" transform="rotate(150)"/><line class="d" x2="27" transform="rotate(210)"/><circle class="o" r="27"/></g>
<g id="c47" transform="translate(1093 1800)"><circle class="f IM" r="34"/><g transform="scale(.2967)"><circle class="s SD" r="57.3" stroke-dasharray="90 400" transform="rotate(90)"/></g><line class="d" x2="34"/><line class="d" x2="34" transform="rotate(45)"/><line class="d" x2="34" transform="rotate(90)"/><line class="d" x2="34" transform="rotate(135)"/><line class="d" x2="34" transform="rotate(180)"/><line class="d" x2="34" transform="rotate(225)"/><line class="d" x2="34" transform="rotate(270)"/><line class="d" x2="34" transform="rotate(315)"/><circle class="o" r="34"/></g>
<g id="c50" transform="translate(1037 1820)"><circle class="f IM" r="30"/><line class="d" x2="30" transform="rotate(-90)"/><line class="d" x2="30" transform="rotate(-18)"/><line class="d" x2="30" transform="rotate(54)"/><line class="d" x2="30" transform="rotate(126)"/><line class="d" x2="30" transform="rotate(198)"/><circle class="o" r="30"/></g>
<g id="c52" transform="translate(1114 1866)"><circle class="f IM" r="27"/><g transform="scale(.2356)"><circle class="s ZJ" r="57.3" stroke-dasharray="60 400" transform="rotate(30)"/></g><line class="d" x2="27" transform="rotate(30)"/><line class="d" x2="27" transform="rotate(90)"/><line class="d" x2="27" transform="rotate(150)"/><line class="d" x2="27" transform="rotate(-90)"/><circle class="o" r="27"/></g>
<g id="c51" transform="translate(1123 1847)"><circle class="f IM" r="27"/><line class="d" x1="-27" x2="27"/><line class="d" y1="-27" y2="27"/><circle class="o" r="27"/></g>
<g id="c72" transform="translate(1113 1940)"><circle class="f IM" r="32"/><g transform="scale(.2793)"><circle class="s GD" r="57.3" stroke-dasharray="150 400" transform="rotate(120)"/><circle class="s SN" r="57.3" stroke-dasharray="60 400"/><circle class="s SX" r="57.3" stroke-dasharray="60 400" transform="rotate(60)"/></g><line class="d" x2="32"/><line class="d" x2="32" transform="rotate(60)"/><line class="d" x2="32" transform="rotate(120)"/><line class="d" x2="32" transform="rotate(195)"/><line class="d" x2="32" transform="rotate(270)"/><line class="d" x2="32" transform="rotate(315)"/><circle class="o" r="32"/></g>
<g id="c67" transform="translate(1032 2000)"><circle class="f IM" r="35"/><line class="d" x1="-35" x2="35"/><line class="d" y1="-35" y2="35"/><line class="d" x1="-24.7" y1="-24.7" x2="24.7" y2="24.7"/><line class="d" x1="-24.7" y1="24.7" x2="24.7" y2="-24.7"/><circle class="o" r="35"/></g>
<g id="c73" transform="translate(1001 2069)"><circle class="f ZJ" r="37"/><g transform="scale(.3229)"><circle class="s GX" r="57.3" stroke-dasharray="45 400" transform="rotate(-90)"/></g><line class="d" x1="-37" x2="37"/><line class="d" y1="-37" y2="37"/><line class="d" x1="-26.2" y1="-26.2" x2="26.2" y2="26.2"/><line class="d" x1="-26.2" y1="26.2" x2="26.2" y2="-26.2"/><circle class="o" r="37"/></g>
<g id="c68" transform="translate(1073 2021)"><circle class="f IM" r="27"/><g transform="scale(.2356)"><circle class="s SX" r="57.3" stroke-dasharray="90 400"/><circle class="s GD" r="57.3" stroke-dasharray="90 400" transform="rotate(90)"/></g><line class="d" x1="-27" x2="27"/><line class="d" y1="-27" y2="27"/><circle class="o" r="27"/></g>
<g id="c81" transform="translate(1185 1980)"><circle class="f IM" r="30"/><g transform="scale(.2618)"><circle class="s SD" r="57.3" stroke-dasharray="145 400"/><circle class="s GD" r="57.3" stroke-dasharray="65 400" transform="rotate(145)"/></g><line class="d" x2="30" transform="rotate(-90)"/><line class="d" x2="30"/><line class="d" x2="30" transform="rotate(80)"/><line class="d" x2="30" transform="rotate(145)"/><line class="d" x2="30" transform="rotate(210)"/><circle class="o" r="30"/></g>
<g id="c83" transform="translate(1237 1968)"><circle class="f XJ" r="22"/><line class="d" x2="22" transform="rotate(-60)"/><line class="d" x2="22" transform="rotate(60)"/><line class="d" x2="22" transform="rotate(180)"/><circle class="o" r="22"/></g>
<g id="c90" transform="translate(1360 1935)"><circle class="f IM" r="20"/><g transform="scale(.1745)"><circle class="s GX" r="57.3" stroke-dasharray="180 400"/></g><line class="d" x1="-20" x2="20"/><circle class="o" r="20"/></g>
<g id="c89"><circle class="n GX" cx="1356" cy="1927" r="15"/></g>
<g id="c92" transform="translate(1348 1985)"><circle class="f IM" r="30"/><line class="d" x2="30" transform="rotate(-90)"/><line class="d" x2="30" transform="rotate(-18)"/><line class="d" x2="30" transform="rotate(54)"/><line class="d" x2="30" transform="rotate(126)"/><line class="d" x2="30" transform="rotate(198)"/><circle class="o" r="30"/></g>
<g id="c91" transform="translate(1355 1963)"><circle class="f IM" r="23"/><g transform="scale(.2007)"><circle class="s XJ" r="57.3" stroke-dasharray="135 400" transform="rotate(135)"/><circle class="s QH" r="57.3" stroke-dasharray="135 400"/></g><line class="d" x2="23"/><line class="d" x2="23" transform="rotate(135)"/><line class="d" x2="23" transform="rotate(270)"/><circle class="o" r="23"/></g>
<g id="c96" transform="translate(1355 2048)"><circle class="f IM" r="29"/><line class="d" x2="29" transform="rotate(-90)"/><line class="d" x2="29" transform="rotate(-18)"/><line class="d" x2="29" transform="rotate(54)"/><line class="d" x2="29" transform="rotate(126)"/><line class="d" x2="29" transform="rotate(198)"/><circle class="o" r="29"/></g>
<g id="c97" transform="translate(1297 2057)"><circle class="f IM" r="24"/><line class="d" x1="-24" x2="24"/><line class="d" y1="-24" y2="24"/><circle class="o" r="24"/></g>
<g id="c98" transform="translate(1318 2063)"><circle class="f IM" r="25"/><line class="d" x2="25" transform="rotate(-90)"/><line class="d" x2="25" transform="rotate(30)"/><line class="d" x2="25" transform="rotate(150)"/><circle class="o" r="25"/></g>
<g id="c62" transform="translate(957 1967)"><circle class="f IM" r="23"/><line class="d" x2="23" transform="rotate(-30)"/><line class="d" x2="23" transform="rotate(90)"/><line class="d" x2="23" transform="rotate(210)"/><circle class="o" r="23"/></g>
<g id="c45" transform="translate(1189 1894)"><circle class="f IM" r="23"/><g transform="scale(.2007)"><circle class="s XJ" r="57.3" stroke-dasharray="150 400" transform="rotate(120)"/><circle class="s LN" r="57.3" stroke-dasharray="120 400"/></g><line class="d" x2="23"/><line class="d" x2="23" transform="rotate(120)"/><line class="d" x2="23" transform="rotate(270)"/><circle class="o" r="23"/></g>
<g id="c36" transform="translate(1355 1830)"><circle class="f IM" r="23"/><line class="d" x2="23" transform="rotate(-90)"/><line class="d" x2="23" transform="rotate(30)"/><line class="d" x2="23" transform="rotate(150)"/><circle class="o" r="23"/></g>
<g id="c42" transform="translate(1262 1752)"><circle class="f IM" r="23"/><line class="d" x2="23" transform="rotate(-90)"/><line class="d" x2="23" transform="rotate(30)"/><line class="d" x2="23" transform="rotate(150)"/><circle class="o" r="23"/></g>
<g id="c41" transform="translate(1227 1773)"><circle class="f IM" r="22"/><g transform="scale(.192)"><circle class="s GD" r="57.3" stroke-dasharray="180 400"/></g><line class="d" x1="-22" x2="22"/><circle class="o" r="22"/></g>
<g id="c28" transform="translate(1417 1780)"><circle class="n GD" r="27"/><line class="d" x1="-27" x2="27"/></g>
<g id="c30" transform="translate(1425 1802)"><circle class="n IM" r="22"/><line class="d" x1="-22" x2="22"/></g>
<g id="c20" transform="translate(1321 1705)"><circle class="h" r="22.5"/><circle class="f BM" r="20"/><g transform="scale(.1745)"><circle class="s XJ" r="57.3" stroke-dasharray="180 400"/></g><line class="d" x1="-20" x2="20"/><circle class="o" r="20"/></g>
<g id="c71" transform="translate(1158 2027)"><circle class="h" r="24.5"/><circle class="n BM" r="22"/><line class="d" x1="-22" x2="22"/></g>
<g id="c117" transform="translate(1686 2479)"><circle class="h" r="24.5"/><circle class="n BM" r="22"/><line class="d" x1="-22" x2="22"/></g>
<g id="c129" transform="translate(1572 1872)"><circle class="f GD" r="20"/><g transform="scale(.1745)"><circle class="s ZJ" r="57.3" stroke-dasharray="180 400"/></g><line class="d" x1="-20" x2="20"/><circle class="o" r="20"/></g>
<g id="c153" transform="translate(1562 1935)"><circle class="n GX" r="23"/><line class="d" x1="-23" x2="23"/></g>
<g id="c156" transform="translate(1552 1985)"><circle class="f IM" r="23"/><line class="d" x2="23" transform="rotate(-90)"/><line class="d" x2="23" transform="rotate(30)"/><line class="d" x2="23" transform="rotate(150)"/><circle class="o" r="23"/></g>
<g id="c152" transform="translate(1487 1945)"><circle class="n SD" r="20"/><line class="d" x1="-20" x2="20"/></g>
<g id="c58" transform="translate(1030 1950)"><circle class="f IM" r="20"/><g transform="scale(.1745)"><circle class="s LN" r="57.3" stroke-dasharray="180 400"/></g><line class="d" x1="-20" x2="20"/><circle class="o" r="20"/></g>
<g id="c65" transform="translate(962 2000)"><circle class="n XJ" r="19"/><line class="d" x1="-19" x2="19"/></g>

<g id="c1"><circle class="n IM" cx="1170" cy="1659" r="15"/></g>
<g id="c2"><circle class="n GD" cx="1386" cy="1642" r="15"/></g>
<g id="c3"><circle class="n HN" cx="1055" cy="1669" r="15"/></g>
<g id="c5"><circle class="n SX" cx="1015" cy="1680" r="15"/></g>
<g id="c6"><circle class="n GS" cx="960" cy="1752" r="15"/></g>
<g id="c9"><circle class="h" cx="1138" cy="1727" r="17.5"/><circle class="n BM" cx="1138" cy="1727" r="15"/></g>
<g id="c10"><circle class="n GD" cx="1116" cy="1760" r="15"/></g>
<g id="c13"><circle class="n GD" cx="1208" cy="1709" r="15"/></g>
<g id="c15"><circle class="n SH" cx="1237" cy="1710" r="15"/></g>
<g id="c23"><circle class="n IM" cx="1312" cy="1782" r="15"/></g>
<g id="c24"><circle class="n IM" cx="1324" cy="1790" r="15"/></g>
<g id="c25"><circle class="n IM" cx="1361" cy="1743" r="15"/></g>
<g id="c26"><circle class="n SX" cx="1418" cy="1747" r="15"/></g>
<g id="c27"><circle class="n IM" cx="1388" cy="1757" r="15"/></g>
<g id="c29"><circle class="n IM" cx="1399" cy="1773" r="15"/></g>
<g id="c31"><circle class="n IM" cx="1425" cy="1825" r="15"/></g>
<g id="c32"><circle class="n IM" cx="1438" cy="1842" r="15"/></g>
<g id="c33"><circle class="n IM" cx="1348" cy="1775" r="15"/></g>
<g id="c43"><circle class="n IM" cx="1250" cy="1770" r="15"/></g>
<g id="c44"><circle class="n IM" cx="1277" cy="1770" r="15"/></g>
<g id="c46"><circle class="n QH" cx="1294" cy="1927" r="15"/></g>
<g id="c48"><circle class="n IM" cx="1120" cy="1788" r="15"/></g>
<g id="c49"><circle class="n IM" cx="1111" cy="1817" r="15"/></g>
<g id="c53"><circle class="n GX" cx="1063" cy="1862" r="15"/></g>
<g id="c56"><circle class="n HN" cx="1037" cy="1920" r="15"/></g>
<g id="c61"><circle class="n GD" cx="963" cy="1927" r="15"/></g>
<g id="c62f"><circle class="n IM" cx="965" cy="1950" r="15"/></g>
<g id="c63"><circle class="n IM" cx="890" cy="1973" r="15"/></g>
<g id="c64"><circle class="h" cx="905" cy="2007" r="17.5"/><circle class="n BM" cx="905" cy="2007" r="15"/></g>
<g id="c66"><circle class="n GX" cx="989" cy="2003" r="15"/></g>
<g id="c74"><circle class="n GD" cx="1028" cy="2063" r="15"/></g>
<g id="c75"><circle class="n GD" cx="941" cy="2068" r="15"/></g>
<g id="c76"><circle class="h" cx="882" cy="2060" r="17.5"/><circle class="n BM" cx="882" cy="2060" r="15"/></g>
<g id="c77"><circle class="h" cx="829" cy="2093" r="17.5"/><circle class="n BM" cx="829" cy="2093" r="15"/></g>
<g id="c78"><circle class="h" cx="794" cy="2090" r="17.5"/><circle class="n BM" cx="794" cy="2090" r="15"/></g>
<g id="c79"><circle class="n YN" cx="771" cy="2113" r="15"/></g>
<g id="c80"><circle class="n YN" cx="688" cy="2153" r="15"/></g>
<g id="c82"><circle class="h" cx="1199" cy="1964" r="17.5"/><circle class="n BM" cx="1199" cy="1964" r="15"/></g>
<g id="c84"><circle class="n XJ" cx="1252" cy="1973" r="15"/></g>
<g id="c86"><circle class="n SX" cx="1260" cy="1993" r="18"/></g>
<g id="c87"><circle class="n IM" cx="1278" cy="1987" r="15"/></g>
<g id="c88"><circle class="n IM" cx="1305" cy="1988" r="15"/></g>
<g id="c93"><circle class="h" cx="1449" cy="1977" r="17.5"/><circle class="n BM" cx="1449" cy="1977" r="15"/></g>
<g id="c94"><circle class="n GX" cx="1441" cy="2014" r="15"/></g>
<g id="c95"><circle class="n IM" cx="1444" cy="2079" r="15"/></g>
<g id="c99"><circle class="n IM" cx="1380" cy="2053" r="15"/></g>
<g id="c100"><circle class="n XJ" cx="1332" cy="2043" r="15"/></g>
<g id="c101"><circle class="n XJ" cx="1267" cy="2048" r="15"/></g>
<g id="c103"><circle class="n XJ" cx="1217" cy="2033" r="15"/></g>
<g id="c104"><circle class="n ZJ" cx="1233" cy="2045" r="15"/></g>
<g id="c106"><circle class="h" cx="1212" cy="2063" r="17.5"/><circle class="n BM" cx="1212" cy="2063" r="15"/></g>
<g id="c107"><circle class="h" cx="1248" cy="2073" r="17.5"/><circle class="n BM" cx="1248" cy="2073" r="15"/></g>
<g id="c108"><circle class="n FJ" cx="1302" cy="2112" r="15"/></g>
<g id="c109"><circle class="n IM" cx="1277" cy="2125" r="15"/></g>
<g id="c110"><circle class="h" cx="1315" cy="2134" r="17.5"/><circle class="n BM" cx="1315" cy="2134" r="15"/></g>
<g id="c111"><circle class="n IM" cx="1345" cy="2162" r="15"/></g>
<g id="c112"><circle class="n QH" cx="1421" cy="2135" r="15"/></g>
<g id="c113"><circle class="n IM" cx="1467" cy="2179" r="15"/></g>
<g id="c114"><circle class="n QH" cx="1484" cy="2241" r="15"/></g>
<g id="c115"><circle class="h" cx="1593" cy="2351" r="17.5"/><circle class="n BM" cx="1593" cy="2351" r="15"/></g>
<g id="c116"><circle class="n IM" cx="1584" cy="2358" r="15"/></g>
<g id="c118"><circle class="n IM" cx="1180" cy="2084" r="15"/></g>
<g id="c121"><circle class="n IM" cx="1484" cy="1774" r="15"/></g>
<g id="c122"><circle class="n IM" cx="1517" cy="1772" r="15"/></g>
<g id="c124"><circle class="n IM" cx="1514" cy="1800" r="15"/></g>
<g id="c125"><circle class="n IM" cx="1561" cy="1778" r="15"/></g>
<g id="c126"><circle class="n IM" cx="1554" cy="1818" r="15"/></g>
<g id="c127"><circle class="n IM" cx="1564" cy="1842" r="15"/></g>
<g id="c130"><circle class="h" cx="1627" cy="1817" r="17.5"/><circle class="n BM" cx="1627" cy="1817" r="15"/></g>
<g id="c131"><circle class="n IM" cx="1653" cy="1833" r="15"/></g>
<g id="c132"><circle class="h" cx="1636" cy="1852" r="17.5"/><circle class="n BM" cx="1636" cy="1852" r="15"/></g>
<g id="c133"><circle class="n IM" cx="1638" cy="1865" r="15"/></g>
<g id="c134"><circle class="n GX" cx="1727" cy="1835" r="15"/></g>
<g id="c135"><circle class="n IM" cx="1665" cy="1872" r="15"/></g>
<g id="c135b"><circle class="n IM" cx="1667" cy="1887" r="15"/></g>
<g id="c136"><circle class="n SX" cx="1667" cy="1905" r="15"/></g>
<g id="c137"><circle class="n SN" cx="1665" cy="1922" r="15"/></g>
<g id="c139"><circle class="n IM" cx="1646" cy="1950" r="15"/></g>
<g id="c140"><circle class="n GD" cx="1614" cy="1948" r="15"/></g>
<g id="c141"><circle class="n XJ" cx="1620" cy="1973" r="15"/></g>
<g id="c142"><circle class="n IM" cx="1729" cy="1895" r="15"/></g>
<g id="c143"><circle class="n SX" cx="1727" cy="1920" r="15"/></g>
<g id="c144"><circle class="h" cx="1759" cy="1913" r="17.5"/><circle class="n BM" cx="1759" cy="1913" r="15"/></g>
<g id="c145"><circle class="h" cx="1818" cy="1939" r="17.5"/><circle class="n BM" cx="1818" cy="1939" r="15"/></g>
<g id="c146"><circle class="h" cx="1908" cy="1950" r="17.5"/><circle class="n BM" cx="1908" cy="1950" r="15"/></g>
<g id="c147"><circle class="n FJ" cx="1907" cy="1965" r="15"/></g>
<g id="c148"><circle class="h" cx="1969" cy="1967" r="17.5"/><circle class="n BM" cx="1969" cy="1967" r="15"/></g>
<g id="c149"><circle class="h" cx="2000" cy="1958" r="17.5"/><circle class="n BM" cx="2000" cy="1958" r="15"/></g>
<g id="c150"><circle class="h" cx="1995" cy="1990" r="17.5"/><circle class="n BM" cx="1995" cy="1990" r="15"/></g>
<g id="c151r"><circle class="n GD" cx="1433" cy="1912" r="15"/></g>
<g id="c151g"><circle class="n IM" cx="1426" cy="1940" r="15"/></g>
<g id="c154"><circle class="n SX" cx="1545" cy="1942" r="18"/></g>
</g>
<g id="legend" class="lg">
<rect class="n IM" x="1691" y="18" width="24" height="22"/><text x="1738" y="39">Inner Mongolia</text>
<rect class="n GD" x="1691" y="50.45" width="24" height="22"/><text x="1738" y="71.45">Guangdong</text>
<rect class="n BM" x="1691" y="82.9" width="24" height="22"/><text x="1738" y="103.9">Hainan (BM)</text>
<rect class="n GX" x="1691" y="115.35" width="24" height="22"/><text x="1738" y="136.35">Guangxi</text>
<rect class="n XJ" x="1691" y="147.8" width="24" height="22"/><text x="1738" y="168.8">Xinjiang</text>
<rect class="n SX" x="1691" y="180.25" width="24" height="22"/><text x="1738" y="201.25">Shanxi</text>
<rect class="n BS" x="1691" y="212.7" width="24" height="22"/><text x="1738" y="233.7">Hainan (BS)</text>
<rect class="n ZJ" x="1691" y="245.15" width="24" height="22"/><text x="1738" y="266.15">Zhejiang</text>
<rect class="n SD" x="1691" y="277.6" width="24" height="22"/><text x="1738" y="298.6">Shandong</text>
<rect class="n NX" x="1691" y="310.05" width="24" height="22"/><text x="1738" y="331.05">Ningxia</text>
<rect class="n QH" x="1691" y="342.5" width="24" height="22"/><text x="1738" y="363.5">Qinghai</text>
<rect class="n HN" x="1691" y="374.95" width="24" height="22"/><text x="1738" y="395.95">Henan</text>
<rect class="n BJ" x="1691" y="407.4" width="24" height="22"/><text x="1738" y="428.4">Beijing</text>
<rect class="n HB" x="1691" y="439.85" width="24" height="22"/><text x="1738" y="460.85">Hebei</text>
<rect class="n SN" x="1691" y="472.3" width="24" height="22"/><text x="1738" y="493.3">Shaanxi</text>
<rect class="n HL" x="1691" y="504.75" width="24" height="22"/><text x="1738" y="525.75">Heilongjiang</text>
<rect class="n XZ" x="1691" y="537.2" width="24" height="22"/><text x="1738" y="558.2">Xizang</text>
<rect class="n FJ" x="1691" y="569.65" width="24" height="22"/><text x="1738" y="590.65">Fujian</text>
<rect class="n JL" x="1691" y="602.1" width="24" height="22"/><text x="1738" y="623.1">Jilin</text>
<rect class="n GS" x="1691" y="634.55" width="24" height="22"/><text x="1738" y="655.55">Gansu</text>
<rect class="n LN" x="1691" y="667" width="24" height="22"/><text x="1738" y="688">Liaoning</text>
<rect class="n AH" x="1691" y="699.45" width="24" height="22"/><text x="1738" y="720.45">Anhui</text>
<rect class="n SH" x="1691" y="731.9" width="24" height="22"/><text x="1738" y="752.9">Shanghai</text>
<rect class="n YN" x="1691" y="764.35" width="24" height="22"/><text x="1738" y="785.35">Yunnan</text>
<rect class="n SC" x="1691" y="796.8" width="24" height="22"/><text x="1738" y="817.8">Sichuan</text>
</g>
</svg>
